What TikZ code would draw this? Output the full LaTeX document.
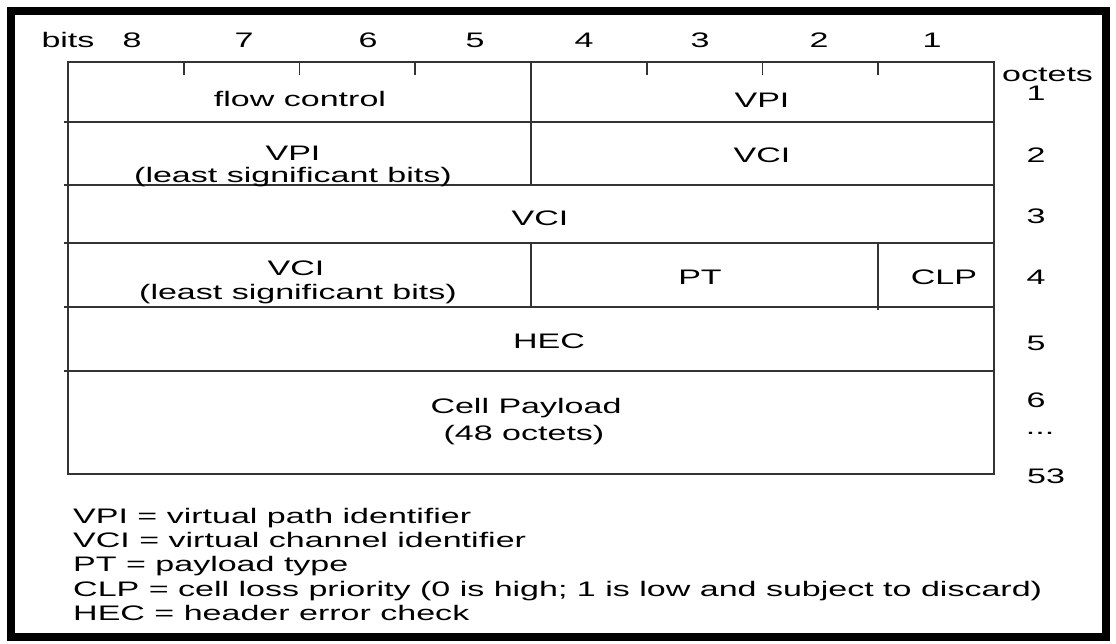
\documentclass[tikz,border=0pt]{standalone}
\usepackage{fontspec}
\setmainfont[FakeStretch=1.62]{Liberation Sans}
\usepackage{xcolor}
\definecolor{zline}{RGB}{51, 51, 51}

\begin{document}
\begin{tikzpicture}[
  x=1pt, y=-1pt,
  cell/.style={draw=zline, line width=1.6pt},
  txt/.style={anchor=base, inner sep=0pt, font=\fontsize{21}{25}\selectfont},
  leg/.style={txt, anchor=base west}
]
\useasboundingbox (0,0) rectangle (1116,644);
% Frame
\draw[line width=8pt] (11,11) rectangle (1106,637);

% Table
\draw[cell] (68,62) rectangle (994,474);
\foreach \y in {122,185,243,307,371}
  \draw[cell] (64,\y) -- (994,\y);
\foreach \x in {183.75,299.5,415.25,646.75,762.5,878.25}
  \draw[cell] (\x,62) -- (\x,75);
\draw[cell] (531,62) -- (531,185);
\draw[cell] (531,243) -- (531,307);
\draw[cell] (878,243) -- (878,310);

% Bit numbers
\node[txt] (bits) at (68,48) {bits};
\foreach \b/\x in {8/132,7/244,6/368,5/475,4/584,3/700,2/819,1/932}
  \node[txt] (bit\b) at (\x,48) {\b};

% Row 1
\node[txt] (flow)  at (300,107) {flow control};
\node[txt] (vpi)   at (762,108) {VPI};
% Row 2
\node[txt] (vpiA)  at (293,161) {VPI};
\node[txt] (vpiB)  at (293,183) {(least significant bits)};
\node[txt] (vci)   at (762,163) {VCI};
% Row 3
\node[txt] (vciC)  at (540,226) {VCI};
% Row 4
\node[txt] (vciA)  at (296,276) {VCI};
\node[txt] (vciB)  at (298,299) {(least significant bits)};
\node[txt] (pt)    at (700,284) {PT};
\node[txt] (clp)   at (944,284) {CLP};
% Row 5
\node[txt] (hec)   at (549,348) {HEC};
% Row 6
\node[txt] (cellA) at (526,413) {Cell Payload};
\node[txt] (cellB) at (524,440) {(48 octets)};

% Octet numbers
\node[txt, anchor=base west] (octets) at (1002,82) {octets};
\foreach \o/\y in {1/101,2/163,3/224,4/284,5/350,6/407}
  \node[txt] (oct\o) at (1036,\y) {\o};
\node[txt] (dots) at (1040,434) {...};
\node[txt] (oct53) at (1046,483) {53};

% Legend
\node[leg] (legA) at (73,523) {VPI = virtual path identifier};
\node[leg] (legB) at (73,547) {VCI = virtual channel identifier};
\node[leg] (legC) at (73,571) {PT = payload type};
\node[leg] (legD) at (73,596) {CLP = cell loss priority (0 is high; 1 is low and subject to discard)};
\node[leg] (legE) at (73,620) {HEC = header error check};
\end{tikzpicture}
\end{document}
